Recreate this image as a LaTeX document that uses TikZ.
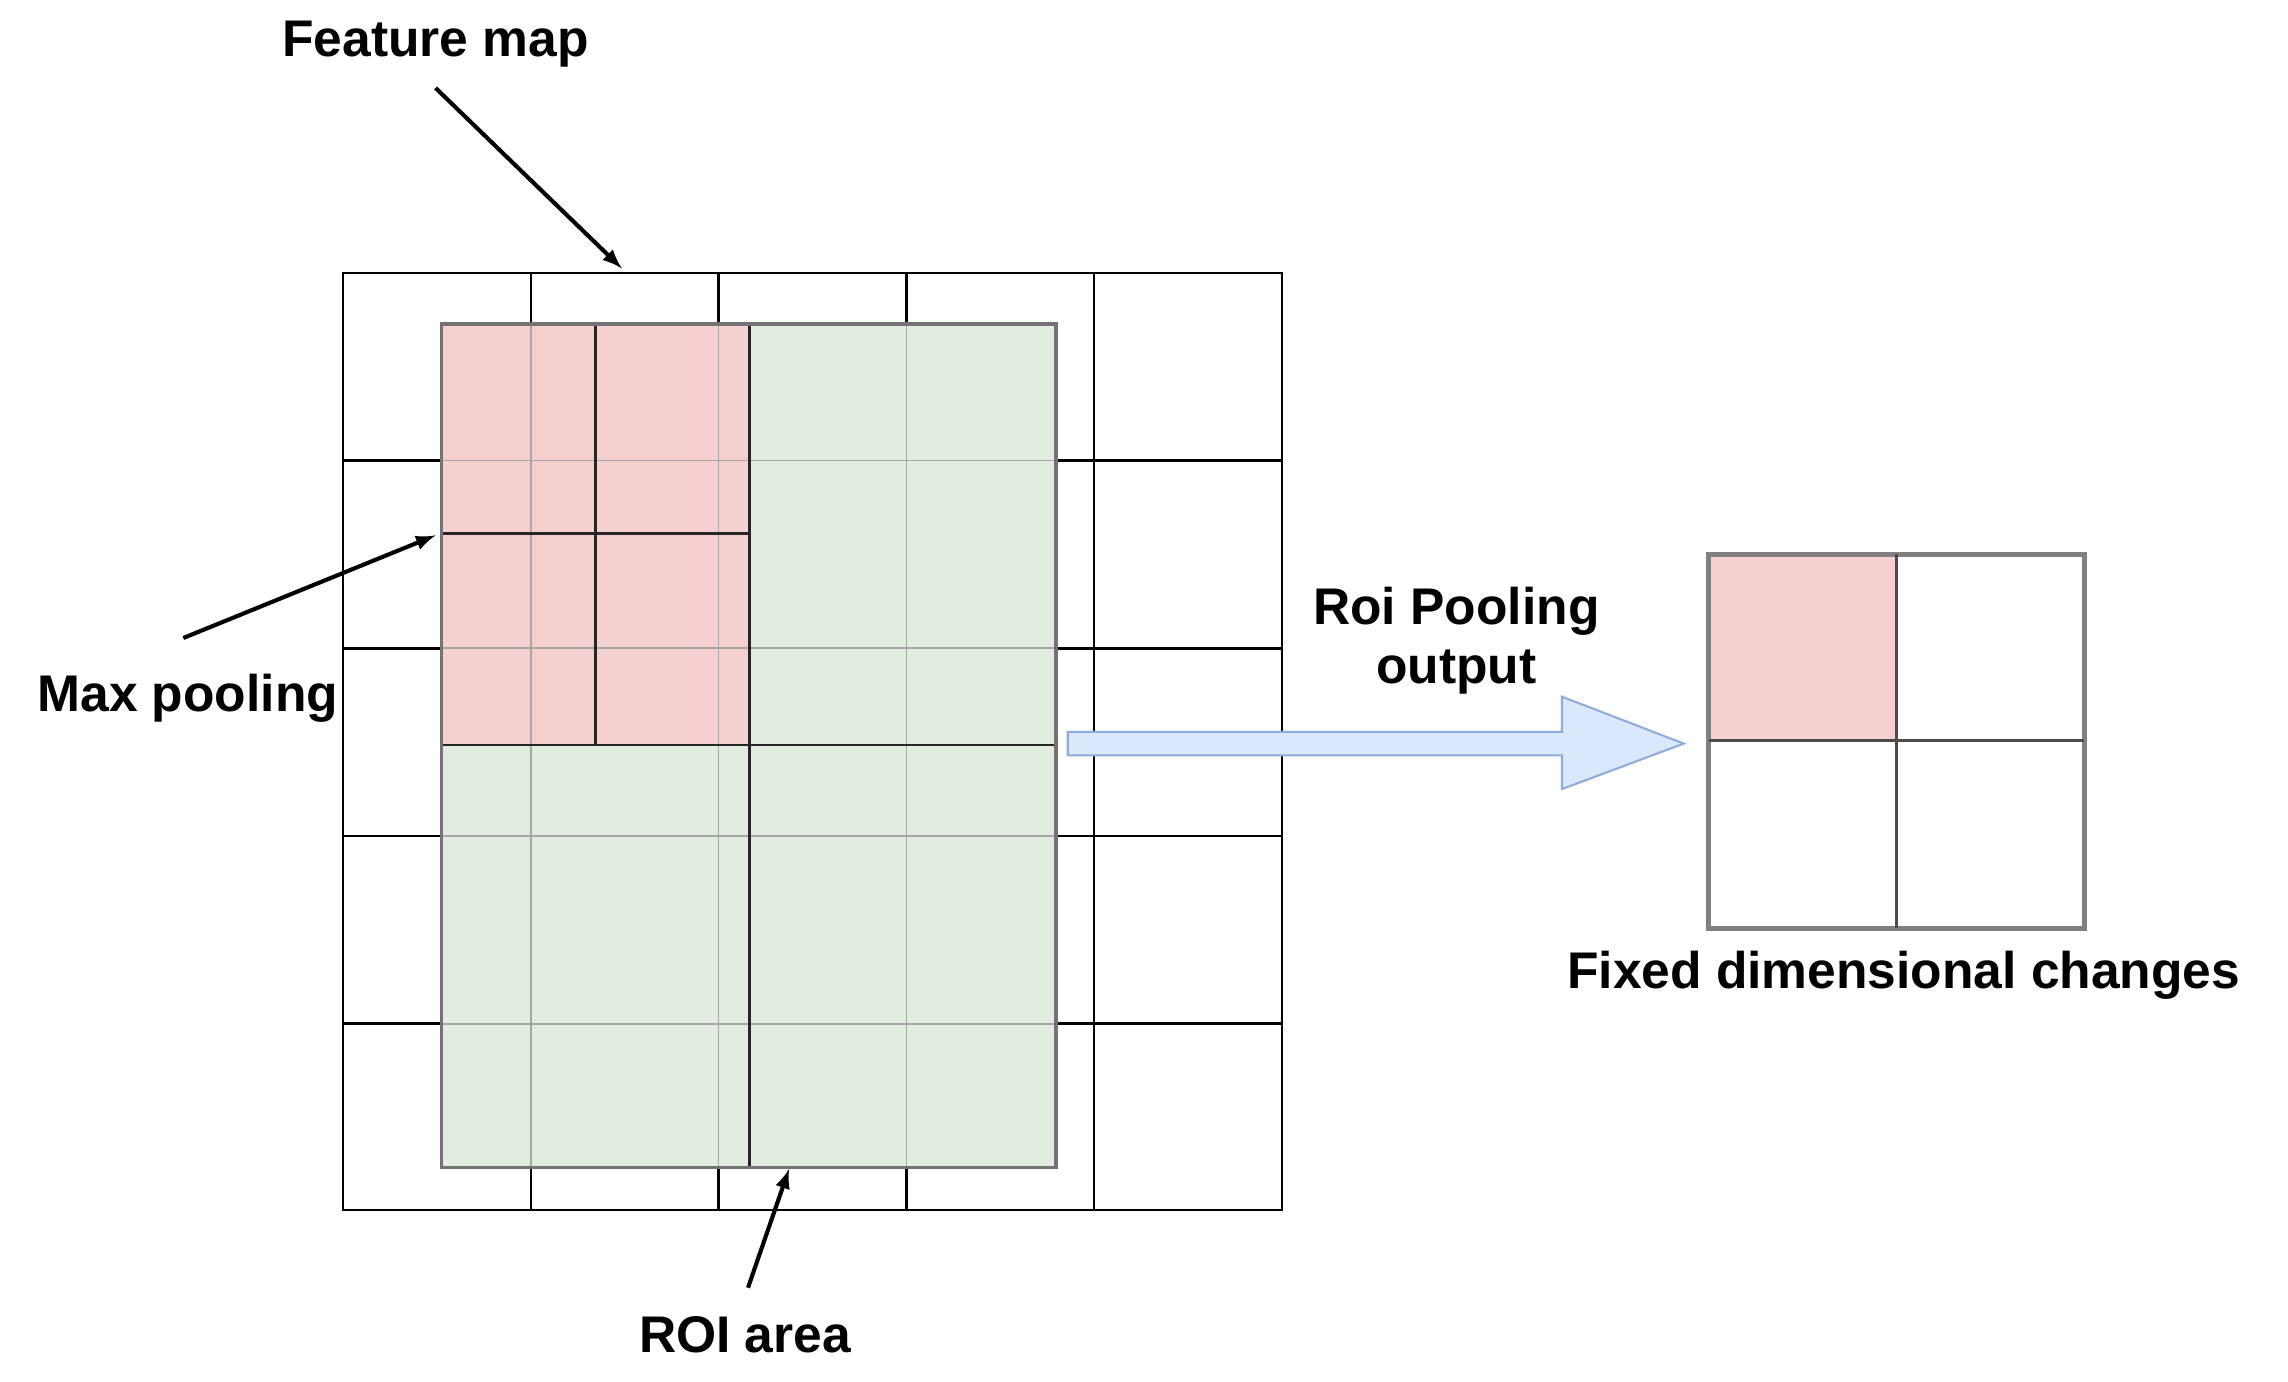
\documentclass[tikz,border=0pt]{standalone}
\usepackage{fontspec}
\setmainfont{Liberation Sans}
\definecolor{pinkfill}{HTML}{F6D0CF}
\definecolor{greenfill}{HTML}{E1EDDF}
\definecolor{bluefill}{HTML}{DAE8FC}
\definecolor{bluedraw}{HTML}{8FAADC}
\begin{document}
\begin{tikzpicture}[x=0.02cm,y=-0.02cm,
	lbl/.style={font=\bfseries\fontsize{20}{23}\selectfont, align=center},
	thin grid/.style={draw=gray!70, line width=0.6pt},
	dark/.style={draw=black!85, line width=1.1pt},
	>=latex]
		\useasboundingbox (0,0) rectangle (1560,942);
		% feature map
		\foreach \x in {362,490,618,746} \draw[line width=1pt] (\x,186) -- (\x,825);
		\foreach \y in {314,442,570,698} \draw[line width=1pt] (234,\y) -- (874,\y);
		\draw[line width=1pt] (234,186) rectangle (874,825);
		% roi area
		\fill[greenfill] (301,221) rectangle (720,796);
		\fill[pinkfill] (301,221) rectangle (511,508);
		\foreach \x in {362,490,618} \draw[thin grid] (\x,221) -- (\x,796);
		\foreach \y in {314,442,570,698} \draw[thin grid] (301,\y) -- (720,\y);
		\draw[dark] (406,221) -- (406,508);
		\draw[dark] (301,364) -- (511,364);
		\draw[dark] (511,221) -- (511,796);
		\draw[dark] (301,508) -- (720,508);
		\draw[draw=gray!90!black, line width=1.3pt] (301,221) rectangle (720,796);
		% output
		\fill[pinkfill] (1165,378) rectangle (1293,505);
		\draw[draw=gray, line width=2pt] (1165,378) rectangle (1421,633);
		\draw[draw=black!70, line width=1.3pt] (1293,378) -- (1293,633);
		\draw[draw=black!70, line width=1.3pt] (1165,505) -- (1421,505);
		% block arrow
		\draw[draw=bluedraw, fill=bluefill, line width=0.8pt]
			(728,499) -- (1065,499) -- (1065,475) -- (1148,507) -- (1065,538) -- (1065,515) -- (728,515) -- cycle;
		% labels
		\node[lbl] (fmap) at (297,30) {Feature map};
		\node[lbl] (maxp) at (128,476) {Max pooling};
		\node[lbl] (roi) at (508,910) {ROI area};
		\node[lbl] (out) at (993,437) {Roi Pooling\\output};
		\node[lbl] (fixed) at (1298,665) {Fixed dimensional changes};
		\coordinate (fmapend) at (424,183);
		\coordinate (maxpend) at (297,365);
		\coordinate (roiend) at (538,797);
		\draw[->, line width=1.6pt] (297,60) -- (fmapend);
		\draw[->, line width=1.6pt] (125,435) -- (maxpend);
		\draw[->, line width=1.6pt] (510,878) -- (roiend);
\end{tikzpicture}
\end{document}
